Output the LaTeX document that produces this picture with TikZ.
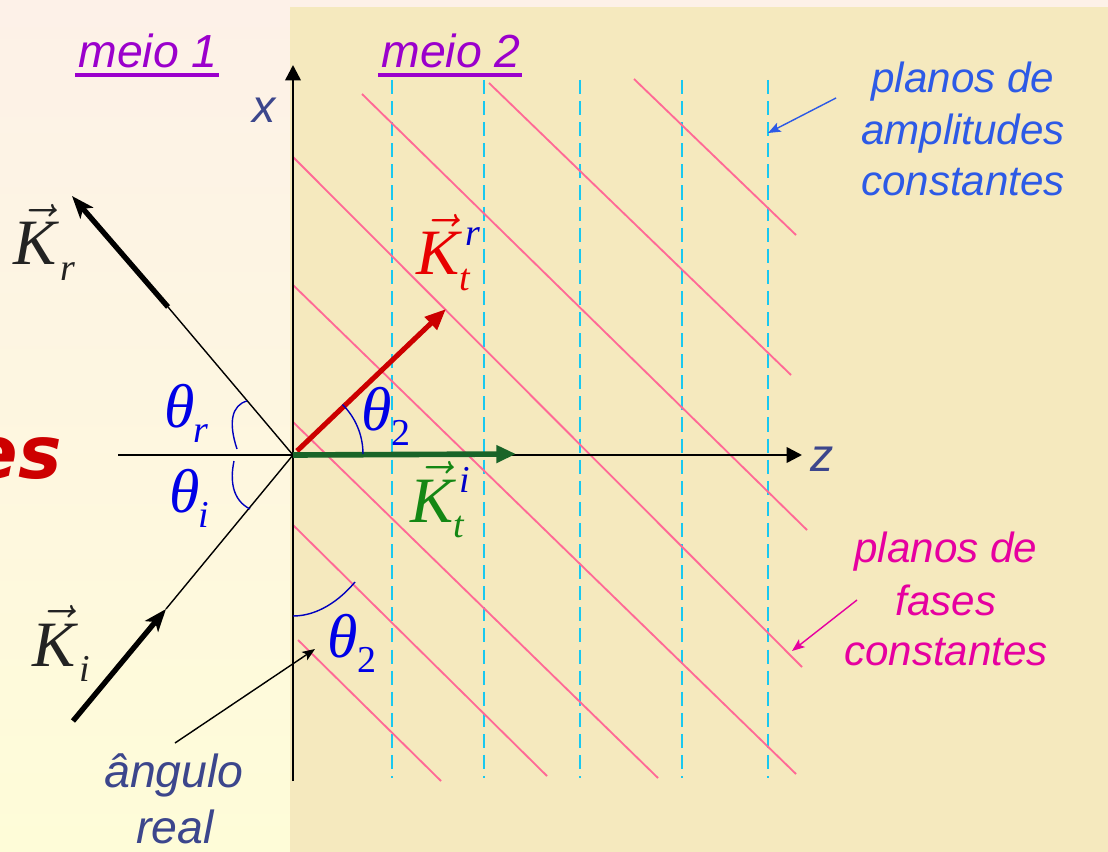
\RequirePackage{fix-cm}
\documentclass[tikz,border=0pt]{standalone}
\usepackage{fontspec}
\setsansfont{Liberation Sans}
\newfontfamily\esfamily{DejaVu Sans}
\newfontfamily\tmsfamily{Liberation Serif}
\usetikzlibrary{arrows.meta}
\definecolor{bgtop}{RGB}{253,241,232}
\definecolor{bgbot}{RGB}{254,252,216}
\definecolor{panelcol}{RGB}{245,233,190}
\definecolor{phasecol}{RGB}{255,105,150}
\definecolor{ampcol}{RGB}{25,200,240}
\definecolor{meiocol}{RGB}{155,0,204}
\definecolor{ampblue}{RGB}{45,90,230}
\definecolor{fasemag}{RGB}{230,0,160}
\definecolor{slate}{RGB}{60,70,140}
\definecolor{kred}{RGB}{204,0,0}
\definecolor{kredtxt}{RGB}{232,0,0}
\definecolor{kgreen}{RGB}{25,100,40}
\definecolor{kgreentxt}{RGB}{20,135,20}
\definecolor{thblue}{RGB}{0,0,230}
\definecolor{supblue}{RGB}{0,0,200}
\definecolor{arcblue}{RGB}{0,0,190}
\definecolor{kdark}{RGB}{35,35,35}
\definecolor{esred}{RGB}{205,0,0}
\newcommand\myveck{$\skew{2}\vec{\hbox{K}}$}
\newcommand\mysubsc[1]{\raisebox{-11pt}{\fontsize{27}{27}\selectfont #1}}
\newcommand\mysupsc[1]{\raisebox{21pt}{\fontsize{27}{27}\selectfont #1}}
\tikzset{
  sanslbl/.style={font=\sffamily\itshape\fontsize{33}{40}\selectfont, inner sep=0pt},
  planolbl/.style={font=\sffamily\itshape\fontsize{30}{36}\selectfont, inner sep=0pt},
  mathlbl/.style={font=\tmsfamily\itshape\fontsize{44}{50}\selectfont, inner sep=0pt, anchor=base west},
  veclbl/.style={font=\tmsfamily\itshape\fontsize{46}{50}\selectfont, inner sep=0pt, anchor=base west},
  phaseline/.style={draw=phasecol, line width=1.3pt},
  ampline/.style={draw=ampcol, line width=1.4pt, dash pattern=on 10pt off 5pt},
  axisline/.style={draw=black, line width=1.8pt, -{Triangle[length=11pt,width=11pt]}},
  raythin/.style={draw=black, line width=1pt},
  raythick/.style={draw=black, line width=3.8pt, -{Stealth[length=16pt,width=12pt,inset=4pt]}},
  anglearc/.style={draw=arcblue, line width=1pt},
  pointer/.style={line width=1pt, -{Stealth[length=9pt,width=7pt,inset=2pt]}},
}
\begin{document}
\begin{tikzpicture}[x=0.025cm,y=-0.025cm]
\useasboundingbox (0,0) rectangle (1108,852);
\clip (0,0) rectangle (1108,852);
% backgrounds
\shade[top color=bgtop, bottom color=bgbot] (0,0) rectangle (1108,852);
\fill[panelcol] (290,7) rectangle (1108,852);

% cut-off word at the left edge
\node[font=\esfamily\bfseries\itshape\fontsize{52}{56}\selectfont, text=esred, inner sep=0pt, anchor=base east] (es) at (62,478) {es};

% planes of constant amplitude
\foreach \xx in {392,484,580,682,768}
  \draw[ampline] (\xx,80) -- (\xx,778);

% planes of constant phase
\draw[phaseline] (362,94) -- (807,530);
\draw[phaseline] (489,83) -- (791,375);
\draw[phaseline] (634,79) -- (796,235);
\draw[phaseline] (293,157) -- (802,667);
\draw[phaseline] (293,285) -- (796,774);
\draw[phaseline] (293,422) -- (658,778);
\draw[phaseline] (293,525) -- (547,776);
\draw[phaseline] (298,640) -- (441,781);

% coordinates
\coordinate (O) at (293,455);
\coordinate (xbot) at (293,781);
\coordinate (xtop) at (293,65);
\coordinate (zleft) at (118,455);
\coordinate (zright) at (802,455);
\coordinate (Itail) at (73,721);
\coordinate (Itip) at (166,609);
\coordinate (Rmid) at (168,307);
\coordinate (Rtip) at (72,196);
\coordinate (Trtail) at (297,451);
\coordinate (Trtip) at (446,309);
\coordinate (Titip) at (516,454);

% axes
\draw[axisline] (xbot) -- (xtop);
\draw[axisline] (zleft) -- (zright);
\node[sanslbl, text=slate] (xlab) at (264,110) {x};
\node[sanslbl, text=slate] (zlab) at (822,459) {z};

% incident and reflected rays
\draw[raythick] (Itail) -- (Itip);
\draw[raythin] (Itip) -- (O);
\draw[raythin] (O) -- (Rmid);
\draw[raythick] (Rmid) -- (Rtip);

% transmitted vectors
\draw[draw=kred, line width=3.6pt, -{Triangle[length=15pt,width=12pt]}] (Trtail) -- (Trtip);
\draw[draw=kgreen, line width=4pt, -{Triangle[length=14pt,width=12pt]}] (O) -- (Titip);

% angle marks
\draw[anglearc] (363,454) arc[start angle=0, end angle=-45, radius=70];
\draw[anglearc] (247,401) .. controls (232,405) and (228,422) .. (237,449);
\draw[anglearc] (234,461) .. controls (230,480) and (232,500) .. (250,509);
\draw[anglearc] (293,616) .. controls (318,616) and (340,600) .. (355,582);

% vector and angle labels
\node[veclbl, text=kdark] (Kr) at (13,265) {\myveck\kern3pt\mysubsc{r}};
\node[veclbl, text=kdark] (Ki) at (32,666) {\myveck\kern3pt\mysubsc{i}};
\node[veclbl, text=kredtxt] (Ktr) at (416,275) {\myveck\rlap{\mysubsc{t}}\kern4pt\mysupsc{\textcolor{supblue}{r}}};
\node[veclbl, text=kgreentxt] (Kti) at (410,522) {\myveck\rlap{\mysubsc{t}}\kern4pt\mysupsc{\textcolor{supblue}{i}}};
\node[mathlbl, text=thblue] (thr) at (164,427) {θ\kern-1pt\mysubsc{r}};
\node[mathlbl, text=thblue] (thi) at (169,512) {θ\kern-1pt\mysubsc{i}};
\node[mathlbl, text=thblue] (th2a) at (361,430) {θ\mysubsc{\upshape 2}};
\node[mathlbl, text=thblue] (th2b) at (327,657) {θ\mysubsc{\upshape 2}};

% media labels
\node[sanslbl, text=meiocol, anchor=base] (m1) at (148,68) {meio 1};
\draw[meiocol, line width=2.4pt] ([xshift=-2pt,yshift=-5pt]m1.base west) -- ([xshift=1pt,yshift=-5pt]m1.base east);
\node[sanslbl, text=meiocol, anchor=base] (m2) at (451,68) {meio 2};
\draw[meiocol, line width=2.4pt] ([xshift=-2pt,yshift=-5pt]m2.base west) -- ([xshift=1pt,yshift=-5pt]m2.base east);

% planos de amplitudes constantes
\node[planolbl, text=ampblue, anchor=base] (amp1) at (963,93) {planos de};
\node[planolbl, text=ampblue, anchor=base] (amp2) at (963,145) {amplitudes};
\node[planolbl, text=ampblue, anchor=base] (amp3) at (963,196) {constantes};
\coordinate (amptail) at (836,98);
\coordinate (amptip) at (768,133);
\draw[pointer, draw=ampblue, fill=ampblue] (amptail) -- (amptip);

% planos de fases constantes
\node[planolbl, text=fasemag, anchor=base] (fas1) at (946,562) {planos de};
\node[planolbl, text=fasemag, anchor=base] (fas2) at (946,615) {fases};
\node[planolbl, text=fasemag, anchor=base] (fas3) at (946,665) {constantes};
\coordinate (fastail) at (857,600);
\coordinate (fastip) at (792,651);
\draw[pointer, draw=fasemag, fill=fasemag] (fastail) -- (fastip);

% angulo real
\node[sanslbl, text=slate, anchor=base] (ang1) at (174,787) {ângulo};
\node[sanslbl, text=slate, anchor=base] (ang2) at (175,843) {real};
\coordinate (angtail) at (175,743);
\coordinate (angtip) at (315,649);
\draw[pointer, draw=black, fill=black] (angtail) -- (angtip);
\end{tikzpicture}
\end{document}
